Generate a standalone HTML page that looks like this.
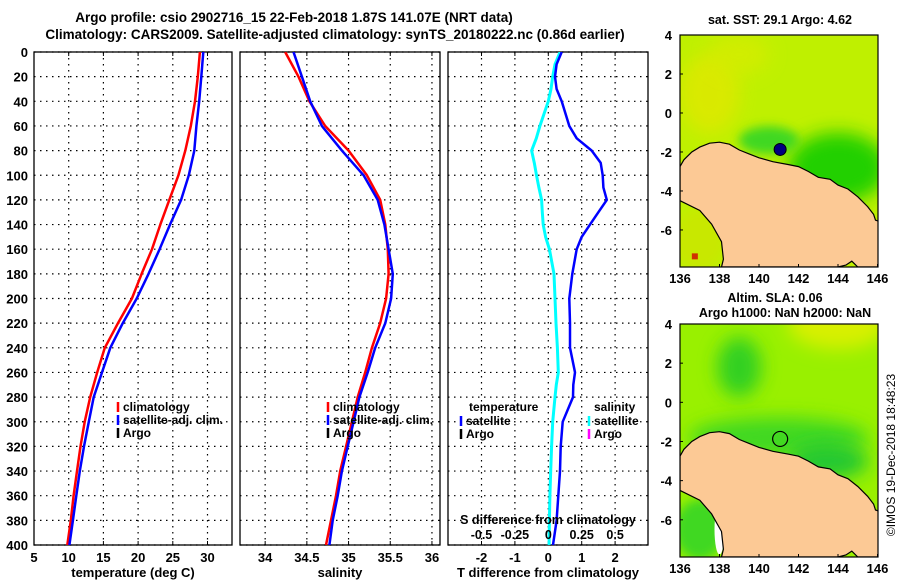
<!DOCTYPE html>
<html><head><meta charset="utf-8"><style>
html,body{margin:0;padding:0;background:#fff;}
svg{display:block;font-family:"Liberation Sans",Arial,sans-serif;font-weight:bold;}
</style></head><body>
<svg id="c" width="900" height="580" viewBox="0 0 900 580" xmlns="http://www.w3.org/2000/svg">
<defs>
<clipPath id="p1c"><rect x="34" y="52" width="198" height="493"/></clipPath>
<clipPath id="p2c"><rect x="240" y="52" width="200" height="493"/></clipPath>
<clipPath id="p3c"><rect x="448" y="52" width="200" height="493"/></clipPath>
<clipPath id="m1c"><rect x="680" y="35" width="198" height="232"/></clipPath>
<clipPath id="m2c"><rect x="680" y="324" width="198" height="233"/></clipPath>
<filter id="bl" x="-50%" y="-50%" width="200%" height="200%"><feGaussianBlur stdDeviation="9"/></filter>
<filter id="bl2" x="-50%" y="-50%" width="200%" height="200%"><feGaussianBlur stdDeviation="5"/></filter>
</defs>
<g font-size="13.5" text-anchor="middle">
<text x="294" y="22">Argo profile: csio 2902716_15 22-Feb-2018 1.87S 141.07E (NRT data)</text>
<text x="335" y="39">Climatology: CARS2009. Satellite-adjusted climatology: synTS_20180222.nc (0.86d earlier)</text>
</g>
<g id="g1"></g>
<g id="g2"></g>
<g id="g3"></g>
<g id="m1"></g>
<g id="m2"></g>
<text x="780" y="24" font-size="12.5" text-anchor="middle">sat. SST: 29.1 Argo: 4.62</text>
<text x="775" y="302" font-size="12.5" text-anchor="middle">Altim. SLA: 0.06</text>
<text x="785" y="317" font-size="12.5" text-anchor="middle">Argo h1000: NaN h2000: NaN</text>
<text transform="translate(895,455) rotate(-90)" font-size="12" font-weight="normal" text-anchor="middle">©IMOS 19-Dec-2018 18:48:23</text>
</svg>
<script>
// ---- data ----
const depths = [0,20,40,60,80,100,120,140,160,180,200,220,240,260,280,300,320,340,360,380,400];
const tempClim = [28.9,28.6,28.2,27.6,26.8,25.8,24.5,23.2,22.0,20.5,19.1,17.1,15.2,14.1,13.1,12.3,11.7,11.2,10.7,10.3,9.8];
const tempSat  = [29.4,29.1,28.8,28.4,28.1,27.3,26.2,24.6,23.1,21.5,19.8,17.8,16.0,14.8,13.6,12.9,12.2,11.6,11.1,10.6,10.1];
const salClim = [34.24,34.40,34.53,34.72,35.00,35.22,35.38,35.44,35.47,35.48,35.45,35.38,35.28,35.20,35.11,35.04,34.97,34.90,34.85,34.79,34.73];
const salSat  = [34.34,34.44,34.54,34.68,34.92,35.18,35.35,35.43,35.48,35.53,35.51,35.44,35.32,35.23,35.13,35.06,34.99,34.92,34.87,34.81,34.77];
const diffDepths = [0,10,20,30,40,60,70,80,90,100,110,120,130,140,150,160,180,200,220,240,260,270,280,300,320,340,360,380,400];
const tDiffSat = [0.40,0.25,0.20,0.25,0.40,0.63,0.85,1.30,1.57,1.63,1.65,1.75,1.50,1.25,1.00,0.85,0.72,0.63,0.65,0.65,0.80,0.75,0.74,0.43,0.37,0.35,0.30,0.25,0.14];
const sDiffSat = [0.088,0.05,0.033,0.02,0,-0.063,-0.09,-0.125,-0.105,-0.088,-0.07,-0.05,-0.045,-0.038,-0.02,0.008,0.043,0.05,0.058,0.068,0.075,0.06,0.05,0.033,0.025,0.018,0.012,0.008,0.006];
const depthTicks = [0,20,40,60,80,100,120,140,160,180,200,220,240,260,280,300,320,340,360,380,400];
const tempTicks = [5,10,15,20,25,30];
const salTicks = [34,34.5,35,35.5,36];
const tDiffTicks = [-2,-1,0,1,2];
const sDiffTickLabels = ["-0.5","-0.25","0","0.25","0.5"];
const sDiffTicks = [-0.5,-0.25,0,0.25,0.5];
const lonTicks = [136,138,140,142,144,146];
const latTicks = [4,2,0,-2,-4,-6];
const argoLon = 141.07, argoLat = -1.87;
const coastLon = [136,136.2,136.6,137.0,137.5,138.0,138.5,139.0,139.5,140.0,140.7,141.5,142.0,142.5,143.0,143.6,144.0,144.5,145.0,145.5,145.8,145.9,146.2,146.2,145.0,144.7,144.4,144.0,138.1,138.2,138.1,137.6,137.0,136];
const coastLat = [-2.75,-2.4,-2.0,-1.75,-1.55,-1.5,-1.6,-1.9,-2.1,-2.3,-2.5,-2.65,-2.75,-3.0,-3.3,-3.4,-3.7,-3.9,-4.3,-4.8,-5.2,-5.5,-5.6,-7.9,-7.9,-7.6,-7.8,-7.9,-7.9,-7.5,-6.6,-5.7,-5.0,-4.5];

// ---- helpers ----
const NS = "http://www.w3.org/2000/svg";
function mk(tag, attrs, parent){ const e=document.createElementNS(NS,tag); for(const k in attrs) e.setAttribute(k,attrs[k]); parent.appendChild(e); return e; }
const Y0=52, Y1=545;
const yD = d => Y0 + d*(Y1-Y0)/400;
const xT = t => 34 + (t-5)*6.94;
const xS = s => 239.3 + (s-33.69)*83.4;
const xTD = t => 548.3 + t*33.4;
const xSD = s => 548.3 + s*133.6;

function panel(g, x0, x1, ticks, xf, labels, title, clip, showY){
  const grid = mk('g',{},g);
  
  
  depthTicks.forEach(d=>{ mk('line',{x1:x0,x2:x1,y1:yD(d),y2:yD(d),stroke:'#000','stroke-width':1.2,'stroke-dasharray':'1.5,4.5'},grid); });
  ticks.forEach(t=>{ const x=xf(t); if(x>x0+2&&x<x1-2) mk('line',{x1:x,x2:x,y1:Y0,y2:Y1,stroke:'#000','stroke-width':1.2,'stroke-dasharray':'1.5,4.5'},grid); });
  const box = mk('rect',{x:x0,y:Y0,width:x1-x0,height:Y1-Y0,fill:'none',stroke:'#000','stroke-width':1.3},g);
  
  
  ticks.forEach((t,i)=>{ const x=xf(t);
    mk('line',{x1:x,x2:x,y1:Y1,y2:Y1-4,stroke:'#000'},g); mk('line',{x1:x,x2:x,y1:Y0,y2:Y0+4,stroke:'#000'},g);
    const tx=mk('text',{x:x,y:562,'font-size':13,'text-anchor':'middle'},g); tx.textContent=labels[i];
    
    
  });
  const tt=mk('text',{x:(x0+x1)/2,y:577,'font-size':13,'text-anchor':'middle'},g); tt.textContent=title;
  
  
  if(showY){ depthTicks.forEach(d=>{ const t=mk('text',{x:28,y:yD(d)+5,'font-size':13,'text-anchor':'end'},g); t.textContent=d;
    
     }); }
}
function line(g, xs, ys, color, w, clip, name){
  const pts = xs.map((v,i)=>v.toFixed(1)+','+ys[i].toFixed(1)).join(' ');
  const p = mk('polyline',{points:pts,fill:'none',stroke:color,'stroke-width':w,'clip-path':'url(#'+clip+')','stroke-linejoin':'round'},g);
  
  
}
function legend(g, x, y, items){
  items.forEach((it,i)=>{ const yy=y+i*13;
    mk('line',{x1:x,x2:x,y1:yy-9,y2:yy+1,stroke:it[1],'stroke-width':2.5},g);
    const t=mk('text',{x:x+5,y:yy,'font-size':12},g); t.textContent=it[0];
    
    
  });
}

// panel 1
const g1=document.getElementById('g1');
panel(g1,34,232,tempTicks,xT,tempTicks.map(String),'temperature (deg C)','p1c',true);
line(g1,tempClim.map(xT),depths.map(yD),'#ff0000',2.5,'p1c','climatology-temperature-line');
line(g1,tempSat.map(xT),depths.map(yD),'#0000ff',2.5,'p1c','satellite-temperature-line');
legend(g1,118,411,[['climatology','#ff0000'],['satellite-adj. clim.','#0000ff'],['Argo','#000']]);
// panel 2
const g2=document.getElementById('g2');
panel(g2,240,440,salTicks,xS,salTicks.map(String),'salinity','p2c',false);
line(g2,salClim.map(xS),depths.map(yD),'#ff0000',2.5,'p2c','climatology-salinity-line');
line(g2,salSat.map(xS),depths.map(yD),'#0000ff',2.5,'p2c','satellite-salinity-line');
legend(g2,328,411,[['climatology','#ff0000'],['satellite-adj. clim.','#0000ff'],['Argo','#000']]);
// panel 3
const g3=document.getElementById('g3');
panel(g3,448,648,tDiffTicks,xTD,tDiffTicks.map(String),'T difference from climatology','p3c',false);
line(g3,sDiffSat.map(xSD),diffDepths.map(yD),'#00ffff',3,'p3c','salinity-diff-satellite-line');
line(g3,tDiffSat.map(xTD),diffDepths.map(yD),'#0000ff',2.5,'p3c','temperature-diff-satellite-line');
{ const t=mk('text',{x:469,y:411,'font-size':12},g3); t.textContent='temperature';
   
  const t2=mk('text',{x:594,y:411,'font-size':12},g3); t2.textContent='salinity';
    }
legend(g3,461,425,[['satellite','#0000ff'],['Argo','#000']]);
legend(g3,589,425,[['satellite','#00ffff'],['Argo','#ff00ff']]);
{ const t=mk('text',{x:548,y:524,'font-size':12.5,'text-anchor':'middle'},g3); t.textContent='S difference from climatology';
   
  sDiffTicks.forEach((s,i)=>{ const l=mk('text',{x:xSD(s),y:539,'font-size':12.5,'text-anchor':'middle'},g3); l.textContent=sDiffTickLabels[i];
      }); }

// maps
function map(id, top, bot, clip, sst){
  const g=document.getElementById(id);
  const lx = lon => 680 + (lon-136)*19.75;
  const ly = lat => top + (4-lat)*(bot-top)/11.9;
  const cg = mk('g',{'clip-path':'url(#'+clip+')'},g);
  if(sst){
    mk('rect',{x:680,y:top,width:198,height:bot-top,fill:'#bff000'},cg);
    mk('ellipse',{cx:lx(137.5),cy:ly(1),rx:30,ry:40,fill:'#e0e800',opacity:0.8,filter:'url(#bl)'},cg);
    mk('ellipse',{cx:lx(139),cy:ly(3),rx:30,ry:20,fill:'#d8ec00',opacity:0.7,filter:'url(#bl)'},cg);
    mk('ellipse',{cx:lx(144),cy:ly(-2.8),rx:50,ry:35,fill:'#20d000',filter:'url(#bl)'},cg);
    mk('ellipse',{cx:lx(140.5),cy:ly(-1.4),rx:30,ry:14,fill:'#40d820',filter:'url(#bl2)'},cg);
    mk('ellipse',{cx:lx(137),cy:ly(-6.5),rx:25,ry:30,fill:'#c8e800',filter:'url(#bl2)'},cg);
    mk('rect',{x:lx(136.6),y:ly(-7.2),width:6,height:6,fill:'#d03000'},cg);
  } else {
    mk('rect',{x:680,y:top,width:198,height:bot-top,fill:'#99f000'},cg);
    mk('ellipse',{cx:lx(144),cy:ly(4),rx:50,ry:25,fill:'#d8f000',filter:'url(#bl)'},cg);
    mk('ellipse',{cx:lx(139),cy:ly(1.8),rx:22,ry:30,fill:'#30d020',filter:'url(#bl)'},cg);
    mk('ellipse',{cx:lx(141),cy:ly(-1.8),rx:90,ry:20,fill:'#40d820',filter:'url(#bl)'},cg);
    mk('ellipse',{cx:lx(143.5),cy:ly(-3),rx:40,ry:18,fill:'#20c830',filter:'url(#bl)'},cg);
    mk('ellipse',{cx:lx(137),cy:ly(-6.5),rx:25,ry:30,fill:'#40d820',filter:'url(#bl2)'},cg);
    mk('ellipse',{cx:lx(138),cy:ly(-6.5),rx:5,ry:25,fill:'#fff'},cg);
  }
  const pts=coastLon.map((v,i)=>lx(v).toFixed(1)+','+ly(coastLat[i]).toFixed(1)).join(' ');
  const land=mk('polygon',{points:pts,fill:'#fcc995',stroke:'#000','stroke-width':1.2},cg);
  
  
  const m = sst ? mk('circle',{cx:lx(argoLon),cy:ly(argoLat),r:6,fill:'#000080',stroke:'#000'},g)
                : mk('circle',{cx:lx(argoLon),cy:ly(argoLat),r:7.5,fill:'none',stroke:'#000','stroke-width':1.2},g);
  
  
  mk('rect',{x:680,y:top,width:198,height:bot-top,fill:'none',stroke:'#000','stroke-width':1.2},g);
  lonTicks.forEach(l=>{ const t=mk('text',{x:lx(l),y:bot+16,'font-size':13,'text-anchor':'middle'},g); t.textContent=l;
     
    mk('line',{x1:lx(l),x2:lx(l),y1:bot,y2:bot-3,stroke:'#000'},g); });
  latTicks.forEach(l=>{ const t=mk('text',{x:672,y:ly(l)+5,'font-size':13,'text-anchor':'end'},g); t.textContent=l;
     
    mk('line',{x1:680,x2:683,y1:ly(l),y2:ly(l),stroke:'#000'},g); });
}
map('m1',35,267,'m1c',true);
map('m2',324,557,'m2c',false);
</script>
</body></html>
